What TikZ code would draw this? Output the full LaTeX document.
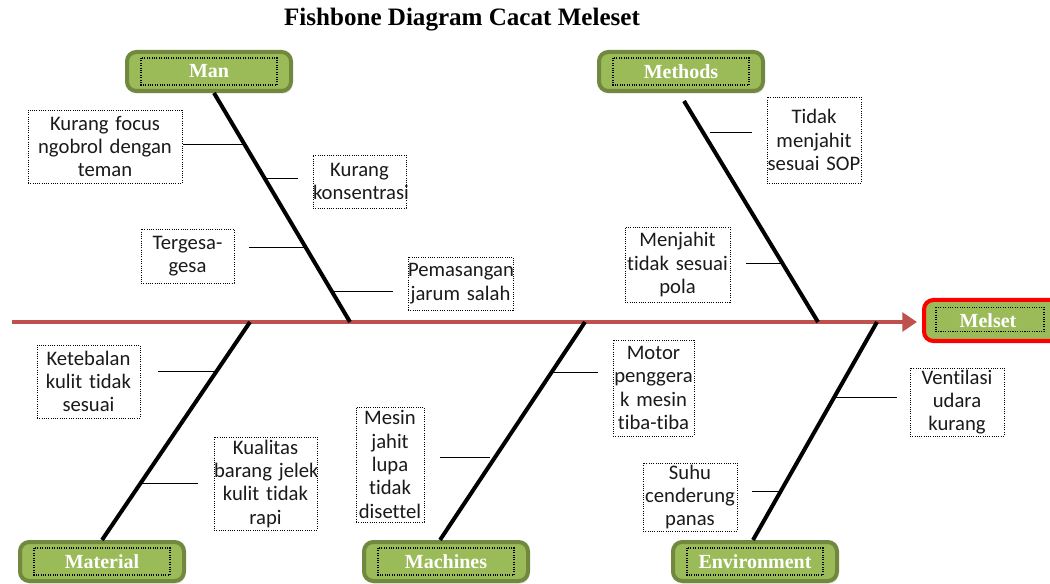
\documentclass[tikz,border=0pt]{standalone}
\usepackage{fontspec}
\setmainfont{Liberation Serif}
\newfontfamily\causefont[Ligatures=NoCommon]{Carlito}
\usetikzlibrary{arrows.meta,shadows}
\definecolor{catfill}{HTML}{9BBB59}
\definecolor{catborder}{HTML}{71893F}
\definecolor{spinered}{HTML}{C0504D}
\definecolor{causetext}{HTML}{1A1A1A}
\begin{document}
\begin{tikzpicture}[x=0.75pt,y=-0.75pt,
 cat/.style={draw=catborder,line width=3pt,fill=catfill,rounded corners=7pt,
   minimum width=123pt,minimum height=29.25pt,inner sep=0pt,
   font=\bfseries\fontsize{15}{18}\selectfont,text=white,
   drop shadow={opacity=0.25,shadow xshift=1pt,shadow yshift=-2pt}},
 innerbox/.style={densely dotted,line width=0.8pt,black},
 cause/.style={draw=black,densely dotted,line width=0.7pt,inner sep=0pt,align=center,
   font=\causefont\fontsize{15.5}{17.5}\selectfont,text=causetext},
 bone/.style={line width=3pt,black},
 twig/.style={line width=0.75pt,black},
 spine/.style={line width=3pt,spinered,-{Triangle[length=11pt,width=14pt]}}
]
\useasboundingbox (0,0) rectangle (1050,584);
\clip (0,0) rectangle (1050,584);
\fill[white] (0,0) rectangle (1050,584);

% title
\node[font=\bfseries\fontsize{18.8}{21}\selectfont] (title) at (462,20) {Fishbone Diagram Cacat Meleset};

% categories
\node[cat] (man) at (209,71.5) {Man};
\node[cat] (methods) at (681,71.5) {Methods};
\node[cat] (material) at (102,561.5) {Material};
\node[cat] (machines) at (446,561.5) {Machines};
\node[cat] (environment) at (755,561.5) {Environment};
\node[cat,draw=red,minimum width=102pt,minimum height=30.75pt] (melset) at (992,320.5) {\hspace*{-3pt}Melset\hspace*{3pt}};

\foreach \n in {man,methods,material,machines,environment}{
  \draw[innerbox] ([xshift=12pt,yshift=-6pt]\n.north west) rectangle ([xshift=-12pt,yshift=6pt]\n.south east);
}
\draw[innerbox] ([xshift=10.5pt,yshift=-7pt]melset.north west) rectangle ([xshift=-13.5pt,yshift=8.5pt]melset.south east);

% spine
\coordinate (s0) at (12,322);
\coordinate (s1) at (917,322);
\draw[spine] (s0) -- (s1);

% bones
\coordinate (b1a) at (214,93);  \coordinate (b1b) at (350,322);
\coordinate (b2a) at (684,101); \coordinate (b2b) at (818,322);
\coordinate (b3a) at (250,322); \coordinate (b3b) at (102,540);
\coordinate (b4a) at (585,322); \coordinate (b4b) at (440,540);
\coordinate (b5a) at (877,322); \coordinate (b5b) at (753,540);
\draw[bone] (b1a) -- (b1b);
\draw[bone] (b2a) -- (b2b);
\draw[bone] (b3a) -- (b3b);
\draw[bone] (b4a) -- (b4b);
\draw[bone] (b5a) -- (b5b);

% causes
\node[cause,text width=115.5pt,minimum height=54.75pt] (c1) at (105,146.5) {\mbox{Kurang focus}\\\mbox{ngobrol dengan}\\teman};
\node[cause,text width=69.75pt,minimum height=39.75pt] (c2) at (359.5,181.5) {Kurang\\konsentrasi};
\node[cause,text width=69.75pt,minimum height=40.5pt] (c3) at (187.5,256) {Tergesa-\\gesa};
\node[cause,text width=78.75pt,minimum height=39.75pt] (c4) at (460.5,283.5) {Pemasangan\\\mbox{jarum salah}};
\node[cause,text width=70.5pt,minimum height=64.5pt] (c5) at (814,140) {Tidak\\menjahit\\\mbox{sesuai SOP}};
\node[cause,text width=78.75pt,minimum height=56.25pt] (c6) at (677.5,264.5) {Menjahit\\\mbox{tidak sesuai}\\pola};
\node[cause,text width=77.25pt,minimum height=54.75pt] (c7) at (88.5,381.5) {Ketebalan\\\mbox{kulit tidak}\\sesuai};
\node[cause,text width=77.25pt,minimum height=69.75pt] (c8) at (265.5,483.5) {Kualitas\\\mbox{barang jelek}\\\mbox{kulit tidak}\\rapi};
\node[cause,text width=51pt,minimum height=86.25pt] (c9) at (390,464.5) {Mesin\\jahit\\lupa\\tidak\\disettel};
\node[cause,text width=60.75pt,minimum height=72pt] (c10) at (653.5,388) {Motor\\penggera\\\mbox{k mesin}\\tiba-tiba};
\node[cause,text width=70.5pt,minimum height=51pt] (c11) at (957,402) {Ventilasi\\udara\\kurang};
\node[cause,text width=70.5pt,minimum height=51pt] (c12) at (690,497) {Suhu\\cenderung\\panas};

% twigs
\coordinate (t1a) at (183,145); \coordinate (t1b) at (244,145);
\coordinate (t2a) at (265,179); \coordinate (t2b) at (298,179);
\coordinate (t3a) at (249,248); \coordinate (t3b) at (304,248);
\coordinate (t4a) at (333,292); \coordinate (t4b) at (393,292);
\coordinate (t5a) at (710,133); \coordinate (t5b) at (752,133);
\coordinate (t6a) at (746,264); \coordinate (t6b) at (783,264);
\coordinate (t7a) at (158,372); \coordinate (t7b) at (214,372);
\coordinate (t8a) at (140,484); \coordinate (t8b) at (198,484);
\coordinate (t9a) at (552,373); \coordinate (t9b) at (598,373);
\coordinate (t10a) at (440,458); \coordinate (t10b) at (490,458);
\coordinate (t11a) at (836,398); \coordinate (t11b) at (897,398);
\coordinate (t12a) at (752,492); \coordinate (t12b) at (780,492);
\foreach \i in {1,...,12}{ \draw[twig] (t\i a) -- (t\i b); }
\end{tikzpicture}
\end{document}
